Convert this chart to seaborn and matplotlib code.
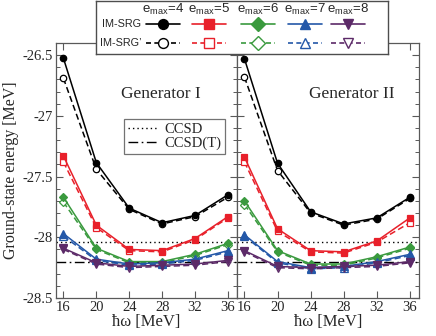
import numpy as np
import pandas as pd
import matplotlib
matplotlib.use("Agg")
import matplotlib.pyplot as plt
import seaborn as sns
from matplotlib.lines import Line2D

# ---------------- data ----------------
hw = [16, 20, 24, 28, 32, 36]
emax_labels = ["4", "5", "6", "7", "8"]

# Generator I, IM-SRG
g1_e4 = [-26.525, -27.385, -27.76, -27.88, -27.82, -27.65]
g1_e5 = [-27.33, -27.90, -28.10, -28.11, -28.01, -27.83]
g1_e6 = [-27.67, -28.09, -28.20, -28.20, -28.14, -28.05]
g1_e7 = [-27.97, -28.18, -28.22, -28.21, -28.18, -28.11]
g1_e8 = [-28.09, -28.21, -28.24, -28.23, -28.22, -28.19]
# Generator I, IM-SRG'
g1p_e4 = [-26.69, -27.44, -27.77, -27.89, -27.83, -27.67]
g1p_e5 = [-27.38, -27.92, -28.11, -28.12, -28.02, -27.84]
g1p_e6 = [-27.71, -28.10, -28.21, -28.21, -28.15, -28.06]
g1p_e7 = [-27.99, -28.19, -28.23, -28.22, -28.19, -28.12]
g1p_e8 = [-28.10, -28.22, -28.25, -28.24, -28.23, -28.20]
# Generator II, IM-SRG
g2_e4 = [-26.53, -27.39, -27.79, -27.89, -27.84, -27.67]
g2_e5 = [-27.34, -27.93, -28.11, -28.12, -28.03, -27.84]
g2_e6 = [-27.70, -28.11, -28.22, -28.22, -28.16, -28.08]
g2_e7 = [-27.98, -28.20, -28.25, -28.24, -28.20, -28.14]
g2_e8 = [-28.11, -28.24, -28.25, -28.24, -28.23, -28.20]
# Generator II, IM-SRG'
g2p_e4 = [-26.68, -27.45, -27.80, -27.90, -27.85, -27.68]
g2p_e5 = [-27.38, -27.95, -28.12, -28.13, -28.04, -27.88]
g2p_e6 = [-27.73, -28.12, -28.23, -28.23, -28.17, -28.09]
g2p_e7 = [-27.99, -28.21, -28.26, -28.25, -28.21, -28.15]
g2p_e8 = [-28.12, -28.25, -28.26, -28.25, -28.24, -28.21]

ccsd = -28.04
ccsd_t = -28.20

# ---------------- style ----------------
colors = ["#000000", "#e8202a", "#3a9a3e", "#2458a8", "#5c2a68"]
markers = ["o", "s", "D", "^", "v"]
msizes = [4.6, 4.6, 4.4, 5.4, 5.4]

sns.set_style("ticks")
plt.rcParams["font.family"] = ["Liberation Serif", "DejaVu Serif"]
plt.rcParams["mathtext.fontset"] = "custom"
plt.rcParams["axes.unicode_minus"] = False

fig = plt.figure(figsize=(4.36, 3.36), dpi=100)
W, H = 436.0, 336.0
ax1 = fig.add_axes([56 / W, 1 - 298 / H, 181 / W, 255 / H])
ax2 = fig.add_axes([237 / W, 1 - 298 / H, 182 / W, 255 / H])

DOT = (0, (1, 2.2))
DASHDOT = (0, (7, 2.5, 1.2, 2.5))

panels = [
    (ax1, [g1_e4, g1_e5, g1_e6, g1_e7, g1_e8], [g1p_e4, g1p_e5, g1p_e6, g1p_e7, g1p_e8], "Generator I", 0.58),
    (ax2, [g2_e4, g2_e5, g2_e6, g2_e7, g2_e8], [g2p_e4, g2p_e5, g2p_e6, g2p_e7, g2p_e8], "Generator II", 0.63),
]

for ax, solid, dashed, title, tx in panels:
    ax.axhline(ccsd, color="black", lw=1.0, ls=DOT, zorder=1)
    ax.axhline(ccsd_t, color="black", lw=1.0, ls=DASHDOT, zorder=1)
    for i in range(5):
        df = pd.DataFrame({"hw": hw, "E": dashed[i]})
        sns.lineplot(data=df, x="hw", y="E", ax=ax, color=colors[i], marker=markers[i],
                     markersize=msizes[i], markerfacecolor="white", markeredgecolor=colors[i],
                     markeredgewidth=0.9, linestyle=(0, (4, 2.2)), lw=1.1, errorbar=None,
                     sort=False, legend=False, zorder=2 + i)
    for i in range(5):
        df = pd.DataFrame({"hw": hw, "E": solid[i]})
        sns.lineplot(data=df, x="hw", y="E", ax=ax, color=colors[i], marker=markers[i],
                     markersize=msizes[i], markerfacecolor=colors[i], markeredgecolor=colors[i],
                     markeredgewidth=0.9, linestyle="-", lw=1.1, errorbar=None,
                     sort=False, legend=False, zorder=3 + i)
    ax.set_xlim(15.1, 37.1)
    ax.set_ylim(-28.5, -26.4)
    ax.set_xticks(hw)
    ax.set_yticks([-28.5, -28, -27.5, -27, -26.5])
    ax.set_yticklabels(["-28.5", "-28", "-27.5", "-27", "-26.5"])
    ax.set_yticks(np.arange(-28.5, -26.39, 0.1), minor=True)
    ax.tick_params(which="both", direction="in", top=True, right=True, color="0.35",
                   labelsize=10.5, pad=2)
    ax.tick_params(which="major", length=5, width=0.8)
    ax.tick_params(which="minor", length=2.8, width=0.7)
    for s in ax.spines.values():
        s.set_color("0.35")
        s.set_linewidth(0.9)
    ax.set_xlabel("ħω [MeV]", fontsize=12, labelpad=0)
    ax.set_ylabel("")
    ax.text(tx, 0.80, title, transform=ax.transAxes, fontsize=12.5, ha="center", va="center")

ax1.set_ylabel("Ground-state energy [MeV]", fontsize=11.5, labelpad=3)
ax2.tick_params(labelleft=False)

# inner legend for CCSD lines (left panel only)
h_ccsd = [Line2D([], [], color="black", lw=1.0, ls=DOT),
          Line2D([], [], color="black", lw=1.0, ls=DASHDOT)]
leg = ax1.legend(h_ccsd, ["CCSD", "CCSD(T)"], loc="upper left",
                 bbox_to_anchor=((124 - 56) / 181, 1 - (119 - 43) / 255),
                 frameon=True, fancybox=False, edgecolor="0.45", framealpha=1,
                 fontsize=10.5, handlelength=2.0, handletextpad=0.5, borderpad=0.25,
                 labelspacing=0.05, borderaxespad=0)
leg.get_frame().set_linewidth(0.9)

# top legend box (drawn as a small inset)
lax = fig.add_axes([96 / W, 1 - 54 / H, 292 / W, 53 / H])
lax.set_zorder(20)
lax.set_facecolor("white")
lax.set_xlim(96, 388)
lax.set_ylim(54, 1)
lax.set_xticks([])
lax.set_yticks([])
for s in lax.spines.values():
    s.set_color("0.3")
    s.set_linewidth(1.0)

col_c = [163, 209, 258, 305, 348]
half = 17
sans = ["Liberation Sans", "DejaVu Sans"]
for i in range(5):
    c = col_c[i]
    lax.text(c, 9, "e$_{\\mathregular{max}}$=" + emax_labels[i], ha="center", va="center",
             fontsize=9.5, family=sans)
    lax.plot([c - half, c + half], [24, 24], color=colors[i], lw=1.2, ls="-")
    lax.plot([c], [24], color=colors[i], marker=markers[i], ms=msizes[i] + 2.5,
             mfc=colors[i], mec=colors[i])
    lax.plot([c - half, c + half], [43, 43], color=colors[i], lw=1.2, ls=(0, (3, 2)))
    lax.plot([c], [43], color=colors[i], marker=markers[i], ms=msizes[i] + 2.5,
             mfc="white", mec=colors[i], mew=1.0)
lax.text(141, 24, "IM-SRG", ha="right", va="center", fontsize=7.8, family=sans)
lax.text(141, 43, "IM-SRG’", ha="right", va="center", fontsize=7.8, family=sans)

fig.savefig("out.png", dpi=100)
